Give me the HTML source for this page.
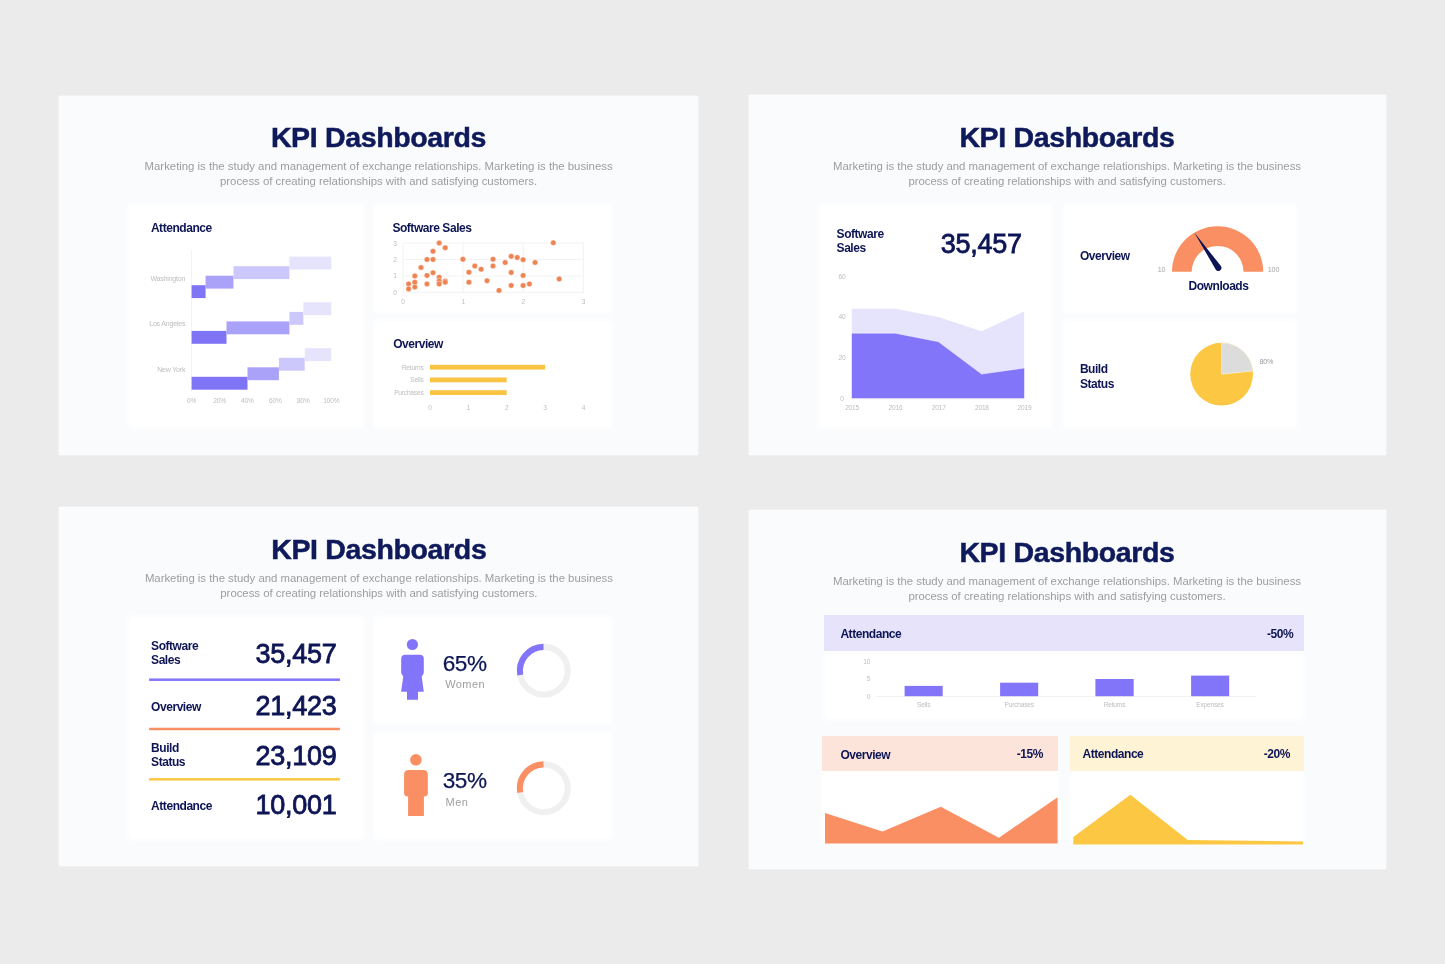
<!DOCTYPE html>
<html>
<head>
<meta charset="utf-8">
<title>KPI Dashboards</title>
<style>
*{box-sizing:border-box;margin:0;padding:0}
html,body{width:1445px;height:964px;overflow:hidden}
body{background:#ebebeb;font-family:"Liberation Sans",sans-serif;position:relative;color:#0e1555}
.slide{position:absolute;background:#fafbfd;box-shadow:0 0 2px rgba(255,255,255,.9)}
.card{position:absolute;background:#fff;filter:blur(2.5px)}
.t{position:absolute;white-space:nowrap;line-height:1}
.c{transform:translateX(-50%)}
.r{transform:translateX(-100%)}
.title{font-weight:bold;font-size:28.5px;letter-spacing:-.35px;color:#0f1a5b;-webkit-text-stroke:.5px #0f1a5b}
.sub{font-size:11.4px;color:#9d9da0;letter-spacing:-.02px;text-align:center;line-height:14.7px;white-space:nowrap;position:absolute;transform:translateX(-50%)}
.h{font-weight:bold;font-size:12px;letter-spacing:-.45px;color:#0e1555;margin-top:.6px}
.ax{font-size:6.6px;color:#bdbdbd;letter-spacing:-.2px;margin-top:.7px}
.num{font-size:26px;color:#0e1555;-webkit-text-stroke:.8px #0e1555;margin-top:.8px}
.pct{color:#0e1555;letter-spacing:-.5px;-webkit-text-stroke:.25px #0e1555}
.lab{color:#a0a0a3;letter-spacing:.42px}
svg{position:absolute;left:0;top:0;overflow:visible}
</style>
</head>
<body>
<div id="root" style="position:absolute;left:0;top:0;width:1445px;height:964px;will-change:transform">

<!-- ============ SLIDE PANELS ============ -->
<div class="slide" style="left:58.7px;top:95.5px;width:639.3px;height:359.5px"></div>
<div class="slide" style="left:748.7px;top:95.3px;width:637.3px;height:360px"></div>
<div class="slide" style="left:58.7px;top:507px;width:639.4px;height:359px"></div>
<div class="slide" style="left:748.7px;top:509.6px;width:637.3px;height:359.2px"></div>

<!-- ============ TITLES ============ -->
<div class="t c title" style="left:378.5px;top:123.3px">KPI Dashboards</div>
<div class="sub" style="left:378.6px;top:159.4px">Marketing is the study and management of exchange relationships. Marketing is the business<br>process of creating relationships with and satisfying customers.</div>

<div class="t c title" style="left:1067px;top:123.3px">KPI Dashboards</div>
<div class="sub" style="left:1067px;top:159.4px">Marketing is the study and management of exchange relationships. Marketing is the business<br>process of creating relationships with and satisfying customers.</div>

<div class="t c title" style="left:378.8px;top:534.8px">KPI Dashboards</div>
<div class="sub" style="left:378.9px;top:570.9px">Marketing is the study and management of exchange relationships. Marketing is the business<br>process of creating relationships with and satisfying customers.</div>

<div class="t c title" style="left:1067px;top:537.9px">KPI Dashboards</div>
<div class="sub" style="left:1067px;top:574.0px">Marketing is the study and management of exchange relationships. Marketing is the business<br>process of creating relationships with and satisfying customers.</div>

<!--S1B-->
<!-- ============ SLIDE 1 ============ -->
<div class="card" style="left:128px;top:203.5px;width:235.5px;height:225.5px"></div>
<div class="card" style="left:373.5px;top:203.5px;width:238px;height:109px"></div>
<div class="card" style="left:373.5px;top:319.5px;width:238px;height:109.5px"></div>
<div class="t h" style="left:150.9px;top:221.9px;font-size:12px;">Attendance</div>
<div class="t h" style="left:392.4px;top:221.5px;font-size:12px;">Software Sales</div>
<div class="t h" style="left:393.2px;top:337.4px;font-size:12px;">Overview</div>
<div class="t ax r" style="left:185.2px;top:274.0px;font-size:7.0px;">Washington</div>
<div class="t ax r" style="left:185.2px;top:319.8px;font-size:7.0px;">Los Angeles</div>
<div class="t ax r" style="left:185.2px;top:365.2px;font-size:7.0px;">New York</div>
<div class="t ax c" style="left:191.5px;top:397.5px;font-size:6.6px;">0%</div>
<div class="t ax c" style="left:219.5px;top:397.5px;font-size:6.6px;">20%</div>
<div class="t ax c" style="left:247.4px;top:397.5px;font-size:6.6px;">40%</div>
<div class="t ax c" style="left:275.4px;top:397.5px;font-size:6.6px;">60%</div>
<div class="t ax c" style="left:303.3px;top:397.5px;font-size:6.6px;">80%</div>
<div class="t ax c" style="left:331.3px;top:397.5px;font-size:6.6px;">100%</div>
<svg width="1445" height="964" viewBox="0 0 1445 964">
<line x1="191.5" y1="250" x2="191.5" y2="392" stroke="#f3f3f3" stroke-width="1"/>
<rect x="191.6" y="285.2" width="14.0" height="12.9" fill="#8074f6"/>
<rect x="205.6" y="275.7" width="27.9" height="12.9" fill="#aaa1f8"/>
<rect x="233.5" y="266.2" width="55.9" height="12.9" fill="#cdc8fb"/>
<rect x="289.4" y="256.6" width="41.9" height="12.9" fill="#e6e3fc"/>
<rect x="191.6" y="330.9" width="34.9" height="12.9" fill="#8074f6"/>
<rect x="226.5" y="321.4" width="62.9" height="12.9" fill="#aaa1f8"/>
<rect x="289.4" y="311.9" width="14.0" height="12.9" fill="#cdc8fb"/>
<rect x="303.4" y="302.3" width="27.9" height="12.9" fill="#e6e3fc"/>
<rect x="191.6" y="376.8" width="55.9" height="12.9" fill="#8074f6"/>
<rect x="247.5" y="367.3" width="31.4" height="12.9" fill="#aaa1f8"/>
<rect x="278.9" y="357.8" width="25.8" height="12.9" fill="#cdc8fb"/>
<rect x="304.8" y="348.2" width="26.5" height="12.9" fill="#e6e3fc"/>
<line x1="403.1" y1="243.1" x2="583.4" y2="243.1" stroke="#f0f0f0" stroke-width="0.8"/>
<line x1="403.1" y1="243.1" x2="403.1" y2="292.4" stroke="#f0f0f0" stroke-width="0.8"/>
<line x1="403.1" y1="259.5" x2="583.4" y2="259.5" stroke="#f0f0f0" stroke-width="0.8"/>
<line x1="463.2" y1="243.1" x2="463.2" y2="292.4" stroke="#f0f0f0" stroke-width="0.8"/>
<line x1="403.1" y1="276.0" x2="583.4" y2="276.0" stroke="#f0f0f0" stroke-width="0.8"/>
<line x1="523.3" y1="243.1" x2="523.3" y2="292.4" stroke="#f0f0f0" stroke-width="0.8"/>
<line x1="403.1" y1="292.4" x2="583.4" y2="292.4" stroke="#f0f0f0" stroke-width="0.8"/>
<line x1="583.4" y1="243.1" x2="583.4" y2="292.4" stroke="#f0f0f0" stroke-width="0.8"/>
<circle cx="408.6" cy="283.9" r="2.75" fill="#ee8453" stroke="#fff" stroke-opacity=".75" stroke-width="0.5"/>
<circle cx="408.6" cy="288.9" r="2.75" fill="#ee8453" stroke="#fff" stroke-opacity=".75" stroke-width="0.5"/>
<circle cx="414.8" cy="275.9" r="2.75" fill="#ee8453" stroke="#fff" stroke-opacity=".75" stroke-width="0.5"/>
<circle cx="414.8" cy="282.2" r="2.75" fill="#ee8453" stroke="#fff" stroke-opacity=".75" stroke-width="0.5"/>
<circle cx="414.8" cy="287.1" r="2.75" fill="#ee8453" stroke="#fff" stroke-opacity=".75" stroke-width="0.5"/>
<circle cx="421.0" cy="267.5" r="2.75" fill="#ee8453" stroke="#fff" stroke-opacity=".75" stroke-width="0.5"/>
<circle cx="427.0" cy="259.5" r="2.75" fill="#ee8453" stroke="#fff" stroke-opacity=".75" stroke-width="0.5"/>
<circle cx="427.0" cy="275.4" r="2.75" fill="#ee8453" stroke="#fff" stroke-opacity=".75" stroke-width="0.5"/>
<circle cx="427.0" cy="283.9" r="2.75" fill="#ee8453" stroke="#fff" stroke-opacity=".75" stroke-width="0.5"/>
<circle cx="433.0" cy="251.3" r="2.75" fill="#ee8453" stroke="#fff" stroke-opacity=".75" stroke-width="0.5"/>
<circle cx="433.0" cy="259.5" r="2.75" fill="#ee8453" stroke="#fff" stroke-opacity=".75" stroke-width="0.5"/>
<circle cx="433.0" cy="272.7" r="2.75" fill="#ee8453" stroke="#fff" stroke-opacity=".75" stroke-width="0.5"/>
<circle cx="439.2" cy="243.1" r="2.75" fill="#ee8453" stroke="#fff" stroke-opacity=".75" stroke-width="0.5"/>
<circle cx="439.2" cy="277.2" r="2.75" fill="#ee8453" stroke="#fff" stroke-opacity=".75" stroke-width="0.5"/>
<circle cx="439.2" cy="280.9" r="2.75" fill="#ee8453" stroke="#fff" stroke-opacity=".75" stroke-width="0.5"/>
<circle cx="439.2" cy="283.9" r="2.75" fill="#ee8453" stroke="#fff" stroke-opacity=".75" stroke-width="0.5"/>
<circle cx="445.2" cy="247.8" r="2.75" fill="#ee8453" stroke="#fff" stroke-opacity=".75" stroke-width="0.5"/>
<circle cx="445.2" cy="280.9" r="2.75" fill="#ee8453" stroke="#fff" stroke-opacity=".75" stroke-width="0.5"/>
<circle cx="445.2" cy="282.2" r="2.75" fill="#ee8453" stroke="#fff" stroke-opacity=".75" stroke-width="0.5"/>
<circle cx="462.9" cy="259.2" r="2.75" fill="#ee8453" stroke="#fff" stroke-opacity=".75" stroke-width="0.5"/>
<circle cx="468.9" cy="272.2" r="2.75" fill="#ee8453" stroke="#fff" stroke-opacity=".75" stroke-width="0.5"/>
<circle cx="468.9" cy="282.2" r="2.75" fill="#ee8453" stroke="#fff" stroke-opacity=".75" stroke-width="0.5"/>
<circle cx="474.8" cy="266.0" r="2.75" fill="#ee8453" stroke="#fff" stroke-opacity=".75" stroke-width="0.5"/>
<circle cx="481.1" cy="269.2" r="2.75" fill="#ee8453" stroke="#fff" stroke-opacity=".75" stroke-width="0.5"/>
<circle cx="487.0" cy="280.7" r="2.75" fill="#ee8453" stroke="#fff" stroke-opacity=".75" stroke-width="0.5"/>
<circle cx="493.0" cy="259.2" r="2.75" fill="#ee8453" stroke="#fff" stroke-opacity=".75" stroke-width="0.5"/>
<circle cx="493.0" cy="266.0" r="2.75" fill="#ee8453" stroke="#fff" stroke-opacity=".75" stroke-width="0.5"/>
<circle cx="499.0" cy="290.4" r="2.75" fill="#ee8453" stroke="#fff" stroke-opacity=".75" stroke-width="0.5"/>
<circle cx="505.2" cy="262.5" r="2.75" fill="#ee8453" stroke="#fff" stroke-opacity=".75" stroke-width="0.5"/>
<circle cx="511.2" cy="256.3" r="2.75" fill="#ee8453" stroke="#fff" stroke-opacity=".75" stroke-width="0.5"/>
<circle cx="511.2" cy="272.4" r="2.75" fill="#ee8453" stroke="#fff" stroke-opacity=".75" stroke-width="0.5"/>
<circle cx="511.2" cy="285.4" r="2.75" fill="#ee8453" stroke="#fff" stroke-opacity=".75" stroke-width="0.5"/>
<circle cx="517.2" cy="257.5" r="2.75" fill="#ee8453" stroke="#fff" stroke-opacity=".75" stroke-width="0.5"/>
<circle cx="523.1" cy="259.7" r="2.75" fill="#ee8453" stroke="#fff" stroke-opacity=".75" stroke-width="0.5"/>
<circle cx="523.1" cy="275.4" r="2.75" fill="#ee8453" stroke="#fff" stroke-opacity=".75" stroke-width="0.5"/>
<circle cx="523.1" cy="285.6" r="2.75" fill="#ee8453" stroke="#fff" stroke-opacity=".75" stroke-width="0.5"/>
<circle cx="529.4" cy="283.9" r="2.75" fill="#ee8453" stroke="#fff" stroke-opacity=".75" stroke-width="0.5"/>
<circle cx="535.1" cy="262.5" r="2.75" fill="#ee8453" stroke="#fff" stroke-opacity=".75" stroke-width="0.5"/>
<circle cx="553.3" cy="242.8" r="2.75" fill="#ee8453" stroke="#fff" stroke-opacity=".75" stroke-width="0.5"/>
<circle cx="559.2" cy="278.9" r="2.75" fill="#ee8453" stroke="#fff" stroke-opacity=".75" stroke-width="0.5"/>
<rect x="430" y="364.8" width="115.1" height="4.8" fill="#f9c443"/>
<rect x="430" y="377.5" width="76.7" height="4.8" fill="#f9c443"/>
<rect x="430" y="390.2" width="76.7" height="4.8" fill="#f9c443"/>
</svg>
<div class="t ax c" style="left:394.9px;top:239.9px;font-size:6.6px;">3</div>
<div class="t ax c" style="left:394.9px;top:256.3px;font-size:6.6px;">2</div>
<div class="t ax c" style="left:394.9px;top:272.7px;font-size:6.6px;">1</div>
<div class="t ax c" style="left:394.9px;top:289.2px;font-size:6.6px;">0</div>
<div class="t ax c" style="left:403.1px;top:298.4px;font-size:6.6px;">0</div>
<div class="t ax c" style="left:463.2px;top:298.4px;font-size:6.6px;">1</div>
<div class="t ax c" style="left:523.3px;top:298.4px;font-size:6.6px;">2</div>
<div class="t ax c" style="left:583.4px;top:298.4px;font-size:6.6px;">3</div>
<div class="t ax r" style="left:423.5px;top:364.1px;font-size:6.6px;">Returns</div>
<div class="t ax r" style="left:423.5px;top:376.8px;font-size:6.6px;">Sells</div>
<div class="t ax r" style="left:423.5px;top:389.5px;font-size:6.6px;">Purchases</div>
<div class="t ax c" style="left:430.0px;top:404.2px;font-size:6.6px;">0</div>
<div class="t ax c" style="left:468.4px;top:404.2px;font-size:6.6px;">1</div>
<div class="t ax c" style="left:506.7px;top:404.2px;font-size:6.6px;">2</div>
<div class="t ax c" style="left:545.0px;top:404.2px;font-size:6.6px;">3</div>
<div class="t ax c" style="left:583.4px;top:404.2px;font-size:6.6px;">4</div>
<!--S1E-->
<!--S2B-->
<!-- ============ SLIDE 2 ============ -->
<div class="card" style="left:817.5px;top:204px;width:235.5px;height:225px"></div>
<div class="card" style="left:1063px;top:204px;width:234px;height:109px"></div>
<div class="card" style="left:1063px;top:320px;width:234px;height:109px"></div>
<div class="t h" style="left:836.6px;top:227.2px;font-size:12px;">Software</div>
<div class="t h" style="left:836.6px;top:241.0px;font-size:12px;">Sales</div>
<div class="t num" style="left:940.8px;top:230.5px;font-size:27px;letter-spacing:-.25px">35,457</div>
<div class="t h" style="left:1079.9px;top:249.4px;font-size:12px;">Overview</div>
<div class="t h c" style="left:1218.5px;top:279.9px;font-size:12px;">Downloads</div>
<div class="t h" style="left:1079.9px;top:362.9px;font-size:12px;">Build</div>
<div class="t h" style="left:1079.9px;top:377.1px;font-size:12px;">Status</div>
<div class="t ax c" style="left:1161.6px;top:265.0px;font-size:7.2px;color:#a4a4a4">10</div>
<div class="t ax c" style="left:1273.5px;top:265.0px;font-size:7.2px;color:#a4a4a4">100</div>
<div class="t ax c" style="left:1266.3px;top:357.8px;font-size:7.2px;color:#9a9a9a">80%</div>
<svg width="1445" height="964" viewBox="0 0 1445 964">
<polygon points="851.8,398.5 851.8,308.8 895.2,308.8 938.4,317.0 981.6,331.2 1024.2,311.3 1024.2,398.5" fill="#e6e3fc"/>
<polygon points="851.8,398.5 851.8,333.2 895.2,333.2 938.4,341.7 981.6,374.1 1024.2,368.1 1024.2,398.5" fill="#8375f9"/>
<polyline points="851.8,333.2 895.2,333.2 938.4,341.7 981.6,374.1 1024.2,368.1" fill="none" stroke="#fff" stroke-opacity=".55" stroke-width="0.8"/>
<line x1="851.8" y1="398.8" x2="1024.2" y2="398.8" stroke="#ededed" stroke-width="0.8"/>
<path d="M1172.0,271.8 A45.6,45.6 0 0 1 1263.2,271.8 L1243.5,271.8 A25.9,25.9 0 0 0 1191.7,271.8 Z" fill="#f98f63"/>
<path d="M1194.1,232.2 L1220.9,266.1 A3.1,3.1 0 0 1 1215.7,269.5 Z" fill="#0e1555"/>
<circle cx="1221.6" cy="374.2" r="31.4" fill="#fcc843"/>
<path d="M1221.6,374.2 L1221.6,342.8 A31.4,31.4 0 0 1 1252.8,370.9 Z" fill="#dcdcdc" stroke="#f4efe0" stroke-width="0.7"/>
</svg>
<div class="t ax c" style="left:841.9px;top:273.0px;font-size:6.6px;">60</div>
<div class="t ax c" style="left:841.9px;top:313.6px;font-size:6.6px;">40</div>
<div class="t ax c" style="left:841.9px;top:354.2px;font-size:6.6px;">20</div>
<div class="t ax c" style="left:841.9px;top:395.1px;font-size:6.6px;">0</div>
<div class="t ax c" style="left:852.1px;top:404.0px;font-size:6.6px;">2015</div>
<div class="t ax c" style="left:895.5px;top:404.0px;font-size:6.6px;">2016</div>
<div class="t ax c" style="left:938.7px;top:404.0px;font-size:6.6px;">2017</div>
<div class="t ax c" style="left:981.9px;top:404.0px;font-size:6.6px;">2018</div>
<div class="t ax c" style="left:1024.5px;top:404.0px;font-size:6.6px;">2019</div>
<!--S2E-->
<!--S3B-->
<!-- ============ SLIDE 3 ============ -->
<div class="card" style="left:128px;top:616px;width:235.5px;height:223.5px"></div>
<div class="card" style="left:373.5px;top:616px;width:238px;height:107.5px"></div>
<div class="card" style="left:373.5px;top:732px;width:238px;height:107.5px"></div>
<div class="t h" style="left:151.1px;top:639.7px;font-size:12px;">Software</div>
<div class="t h" style="left:151.1px;top:653.9px;font-size:12px;">Sales</div>
<div class="t h" style="left:151.1px;top:700.0px;font-size:12px;">Overview</div>
<div class="t h" style="left:151.1px;top:741.3px;font-size:12px;">Build</div>
<div class="t h" style="left:151.1px;top:755.5px;font-size:12px;">Status</div>
<div class="t h" style="left:151.1px;top:799.3px;font-size:12px;">Attendance</div>
<div class="t num r" style="left:336.6px;top:640.1px;font-size:27px;letter-spacing:-.25px">35,457</div>
<div class="t num r" style="left:336.6px;top:692.2px;font-size:27px;letter-spacing:-.25px">21,423</div>
<div class="t num r" style="left:336.6px;top:742.0px;font-size:27px;letter-spacing:-.25px">23,109</div>
<div class="t num r" style="left:336.6px;top:791.3px;font-size:27px;letter-spacing:-.25px">10,001</div>
<div class="t pct" style="left:442.8px;top:652.8px;font-size:22.6px;">65%</div>
<div class="t lab" style="left:445.2px;top:678.5px;font-size:11px;">Women</div>
<div class="t pct" style="left:442.8px;top:769.9px;font-size:22.6px;">35%</div>
<div class="t lab" style="left:445.6px;top:797.1px;font-size:11px;">Men</div>
<svg width="1445" height="964" viewBox="0 0 1445 964">
<rect x="149.1" y="678.45" width="190.8" height="2.5" fill="#8375f9"/>
<rect x="149.1" y="727.75" width="190.8" height="2.5" fill="#f98f63"/>
<rect x="149.1" y="778.05" width="190.8" height="2.5" fill="#fcc843"/>
<circle cx="412.4" cy="644.5" r="5.6" fill="#8375f9"/>
<path d="M405.2,654.7 H419.8 Q423.8,654.7 423.8,658.7 V672.6 Q423.8,674 421.7,676.5 L423.8,691.8 H418 V699.7 H407 V691.8 H401.1 L403.3,676.5 Q401.2,674 401.2,672.6 V658.7 Q401.2,654.7 405.2,654.7 Z" fill="#8375f9"/>
<circle cx="415.9" cy="759.8" r="5.8" fill="#f98f63"/>
<path d="M408.6,769.9 H423.3 Q427.8,769.9 427.8,774.4 V793.4 Q427.8,796.2 423.9,796.5 V816 H408.1 V796.5 Q404.1,796.2 404.1,793.4 V774.4 Q404.1,769.9 408.6,769.9 Z" fill="#f98f63"/>
<circle cx="543.8" cy="670.8" r="23.9" fill="none" stroke="#f0f0f0" stroke-width="6.1"/>
<path d="M520.26,674.95 A23.9,23.9 0 0 1 543.50,646.90" fill="none" stroke="#8375f9" stroke-width="6.1"/>
<circle cx="543.8" cy="788.3" r="23.9" fill="none" stroke="#f0f0f0" stroke-width="6.1"/>
<path d="M520.26,792.45 A23.9,23.9 0 0 1 543.50,764.40" fill="none" stroke="#f98f63" stroke-width="6.1"/>
</svg>
<!--S3E-->
<!--S4B-->
<!-- ============ SLIDE 4 ============ -->
<div class="card" style="left:824.2px;top:651px;width:479.9px;height:69px"></div>
<div class="card" style="left:822.3px;top:771px;width:235.3px;height:72.5px"></div>
<div class="card" style="left:1069.5px;top:770.5px;width:234.4px;height:73.5px"></div>
<div style="position:absolute;left:824.2px;top:615px;width:479.9px;height:36.2px;background:#e6e3fb"></div>
<div style="position:absolute;left:822.3px;top:735.7px;width:235.3px;height:35.7px;background:#fde4da"></div>
<div style="position:absolute;left:1069.5px;top:735.7px;width:234.4px;height:35.1px;background:#fef3d5"></div>
<div class="t h" style="left:840.4px;top:627.6px;font-size:12px;">Attendance</div>
<div class="t h r" style="left:1293.2px;top:627.3px;font-size:12px;">-50%</div>
<div class="t h" style="left:840.4px;top:748.5px;font-size:12px;">Overview</div>
<div class="t h r" style="left:1042.9px;top:747.3px;font-size:12px;">-15%</div>
<div class="t h" style="left:1082.5px;top:747.3px;font-size:12px;">Attendance</div>
<div class="t h r" style="left:1290.0px;top:747.3px;font-size:12px;">-20%</div>
<svg width="1445" height="964" viewBox="0 0 1445 964">
<line x1="876" y1="696.5" x2="1256" y2="696.5" stroke="#efefef" stroke-width="0.8"/>
<rect x="904.6" y="685.9" width="38.1" height="10.3" fill="#8375f9"/>
<rect x="1000.1" y="682.7" width="38.1" height="13.5" fill="#8375f9"/>
<rect x="1095.4" y="679" width="38.3" height="17.2" fill="#8375f9"/>
<rect x="1191.1" y="675.6" width="38.1" height="20.6" fill="#8375f9"/>
<polygon points="825,843.5 825,812.9 882.5,831.4 940.8,806.7 998.9,837.8 1057.6,797.3 1057.6,843.5" fill="#f98f63"/>
<polygon points="1073.3,844.4 1073.3,837.1 1130.4,794.7 1187.7,840 1303.1,841.4 1303.1,844.4" fill="#fcc843"/>
</svg>
<div class="t ax r" style="left:870.2px;top:658.4px;font-size:6.6px;">10</div>
<div class="t ax r" style="left:870.2px;top:675.8px;font-size:6.6px;">5</div>
<div class="t ax r" style="left:870.2px;top:693.0px;font-size:6.6px;">0</div>
<div class="t ax c" style="left:923.6px;top:701.8px;font-size:6.6px;">Sells</div>
<div class="t ax c" style="left:1019.2px;top:701.8px;font-size:6.6px;">Purchases</div>
<div class="t ax c" style="left:1114.5px;top:701.8px;font-size:6.6px;">Returns</div>
<div class="t ax c" style="left:1210.0px;top:701.8px;font-size:6.6px;">Expenses</div>
<!--S4E-->

</div>
</body>
</html>
